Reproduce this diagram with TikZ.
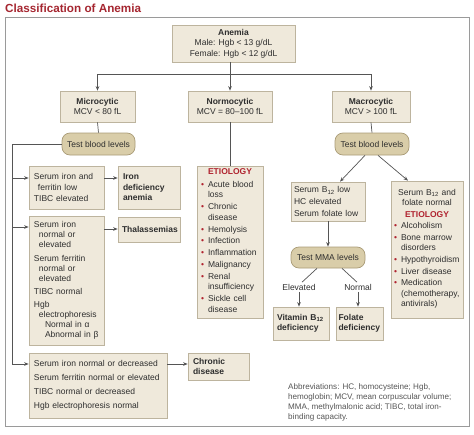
\documentclass[tikz,border=0pt]{standalone}
\usepackage{fontspec}
\setmainfont{Liberation Sans}
\usetikzlibrary{arrows.meta,calc}
\definecolor{boxfill}{HTML}{EFE9DB}
\definecolor{boxline}{HTML}{BDB49E}
\definecolor{pillfill}{HTML}{D9CDA9}
\definecolor{pillline}{HTML}{A99B76}
\definecolor{lncol}{HTML}{555555}
\definecolor{txt}{HTML}{2E2E2E}
\definecolor{etred}{HTML}{B0232F}
\definecolor{titlered}{HTML}{A52630}
\definecolor{framecol}{HTML}{9A9A9A}
\definecolor{abbrcol}{HTML}{555555}
\newcommand\bul{\makebox[7pt][l]{\textcolor{etred}{\textbullet}}}
\begin{document}
\begin{tikzpicture}[x=1pt,y=-1pt,
  bx/.style={draw=boxline, fill=boxfill, line width=0.7pt, inner xsep=5pt, inner ysep=0pt, text=txt, font=\fontsize{8.5}{10.5}\selectfont},
  bbx/.style={bx, font=\fontsize{8.5}{10.5}\selectfont\bfseries},
  pill/.style={draw=pillline, fill=pillfill, line width=0.7pt, rounded corners=8pt, inner sep=0pt, text=txt, font=\fontsize{8.5}{10.5}\selectfont},
  ln/.style={draw=lncol, line width=0.7pt},
  arr/.style={ln, -{Stealth[length=4.5pt,width=3.6pt]}},
  lbl/.style={inner sep=1.5pt, text=txt, font=\fontsize{8.5}{10.5}\selectfont},
]
\useasboundingbox (0,0) rectangle (474,434);
% title and frame
\node[anchor=base west, inner sep=0pt, text=titlered, font=\fontsize{11.7}{14}\selectfont\bfseries] (title) at (5,12.5) {Classification of Anemia};
\draw[framecol, line width=0.8pt] (5.5,17.5) rectangle (469,426.5);

% top level
\node[bx, minimum width=123pt, minimum height=37pt, align=center] (anemia) at (233.5,43.5) {\textbf{Anemia}\\Male: Hgb < 13 g/dL\\Female: Hgb < 12 g/dL};
\node[bx, minimum width=75pt, minimum height=31pt, align=center] (micro) at (97.5,106.5) {\textbf{Microcytic}\\MCV < 80 fL};
\node[bx, minimum width=84pt, minimum height=31pt, align=center] (normo) at (230,106.5) {\textbf{Normocytic}\\MCV = 80–100 fL};
\node[bx, minimum width=78pt, minimum height=31pt, align=center] (macro) at (371,106.5) {\textbf{Macrocytic}\\MCV > 100 fL};
\coordinate (hl) at (0,74);
\draw[arr] (anemia.south -| normo.north) -- (normo.north);
\draw[ln] (micro.north |- hl) -- (macro.north |- hl);
\draw[arr] (micro.north |- hl) -- (micro.north);
\draw[arr] (macro.north |- hl) -- (macro.north);

% microcytic branch
\node[pill, minimum width=73pt, minimum height=22pt] (t1) at (98.5,144) {Test blood levels};
\draw[ln] (micro.south) -- (t1.north);
\node[bx, minimum width=75pt, minimum height=43pt, text width=65pt, align=left] (b1) at (66.5,187.5) {Serum iron and\\\hspace*{4pt}ferritin low\\[1pt]TIBC elevated};
\node[bbx, minimum width=62pt, minimum height=43pt, text width=52pt, align=left] (iron) at (149,187.5) {Iron\\deficiency\\anemia};
\node[bx, minimum width=75pt, minimum height=129pt, text width=65pt, align=left, font=\fontsize{8.5}{10}\selectfont] (b2) at (66.5,280.5) {Serum iron\\\hspace*{5pt}normal or\\\hspace*{5pt}elevated\\[4.5pt]Serum ferritin\\\hspace*{5pt}normal or\\\hspace*{5pt}elevated\\[3pt]TIBC normal\\[3pt]Hgb\\\hspace*{5pt}electrophoresis\\\hspace*{11pt}Normal in α\\\hspace*{11pt}Abnormal in β};
\node[bbx, minimum width=62pt, minimum height=25pt, inner xsep=4pt, text width=54pt, align=left] (thal) at (149,229.5) {Thalassemias};
\node[bx, minimum width=138pt, minimum height=65pt, text width=128pt, align=left] (b3) at (98,385.5) {Serum iron normal or decreased\\[3.5pt]Serum ferritin normal or elevated\\[3.5pt]TIBC normal or decreased\\[3.5pt]Hgb electrophoresis normal};
\node[bbx, minimum width=61pt, minimum height=27pt, text width=51pt, align=left] (chron) at (218.5,366.5) {Chronic\\disease};
\coordinate (a1) at (12,178);
\coordinate (a2) at (12,227);
\coordinate (a3) at (12,364);
\coordinate (c2) at (12,229);
\draw[arr] (t1.west) -| (a3) -- (a3 -| b3.west);
\draw[arr] (a1) -- (a1 -| b1.west);
\draw[arr] (a2) -- (a2 -| b2.west);
\draw[arr] (a1 -| b1.east) -- (a1 -| iron.west);
\draw[arr] (c2 -| b2.east) -- (c2 -| thal.west);
\draw[arr] (a3 -| b3.east) -- (a3 -| chron.west);

% normocytic branch
\node[bx, minimum width=66pt, minimum height=152pt, inner xsep=4pt, text width=58pt, align=left] (etio) at (230,242) {\makebox[58pt]{\textcolor{etred}{\textbf{ETIOLOGY}}}\\[2.5pt]
\begin{tabular}[t]{@{}l@{}l@{}}
\bul & Acute blood\\ & loss\\[1.2pt]
\bul & Chronic\\ & disease\\[1.5pt]
\bul & Hemolysis\\[1.2pt]
\bul & Infection\\[1.5pt]
\bul & Inflammation\\[1.5pt]
\bul & Malignancy\\[1.2pt]
\bul & Renal\\ & insufficiency\\[1.5pt]
\bul & Sickle cell\\ & disease
\end{tabular}};
\draw[ln] (normo.south) -- (etio.north);

% macrocytic branch
\node[pill, minimum width=74pt, minimum height=22pt] (t3) at (372,144) {Test blood levels};
\draw[ln] (macro.south) -- (t3.north);
\node[bx, minimum width=74pt, minimum height=39pt, inner xsep=3pt, text width=68pt, align=left] (b12) at (328,201.5) {Serum B\textsubscript{12} low\\[1.2pt]HC elevated\\[1.2pt]Serum folate low};
\node[bx, minimum width=72pt, minimum height=137pt, inner xsep=3pt, text width=66pt, align=left] (etio2) at (427,249.5) {\makebox[66pt]{Serum B\textsubscript{12} and}\\\makebox[66pt]{folate normal}\\[1.5pt]\makebox[66pt]{\textcolor{etred}{\textbf{ETIOLOGY}}}\\[0.5pt]
\begin{tabular}[t]{@{}l@{}l@{}}
\bul & Alcoholism\\[1pt]
\bul & Bone marrow\\ & disorders\\[1.5pt]
\bul & Hypothyroidism\\[1pt]
\bul & Liver disease\\[1pt]
\bul & Medication\\ & (chemotherapy,\\ & antivirals)
\end{tabular}};
\draw[arr] ($(t3.south)+(-7,0)$) -- ($(b12.north)+(12,0)$);
\draw[arr] ($(t3.south)+(6,0)$) -- ($(etio2.north)+(-19,0)$);
\node[pill, minimum width=74pt, minimum height=21pt] (t4) at (328,257.5) {Test MMA levels};
\draw[arr] (b12.south) -- (t4.north);
\node[lbl] (elev) at (299,287) {Elevated};
\node[lbl] (nrm) at (358,287) {Normal};
\node[bbx, minimum width=56pt, minimum height=33pt, inner xsep=4pt, text width=48pt, align=left] (vit) at (301,323.5) {Vitamin B\textsubscript{12}\\deficiency};
\node[bbx, minimum width=47pt, minimum height=33pt, inner xsep=2.5pt, text width=42pt, align=left] (fol) at (359.5,323.5) {Folate\\deficiency};
\draw[ln] ($(t4.south)+(-11,0)$) -- ($(elev.north)+(3,0)$);
\draw[ln] ($(t4.south)+(14,0)$) -- ($(nrm.north)+(-1,0)$);
\draw[arr] (elev.south) -- (elev.south |- vit.north);
\draw[arr] (nrm.south) -- (nrm.south |- fol.north);

% abbreviations
\node[anchor=north west, inner sep=0pt, text=abbrcol, font=\fontsize{8.1}{10}\selectfont, align=left] (abbr) at (288,383) {Abbreviations: HC, homocysteine; Hgb,\\hemoglobin; MCV, mean corpuscular volume;\\MMA, methylmalonic acid; TIBC, total iron-\\binding capacity.};
\end{tikzpicture}
\end{document}
